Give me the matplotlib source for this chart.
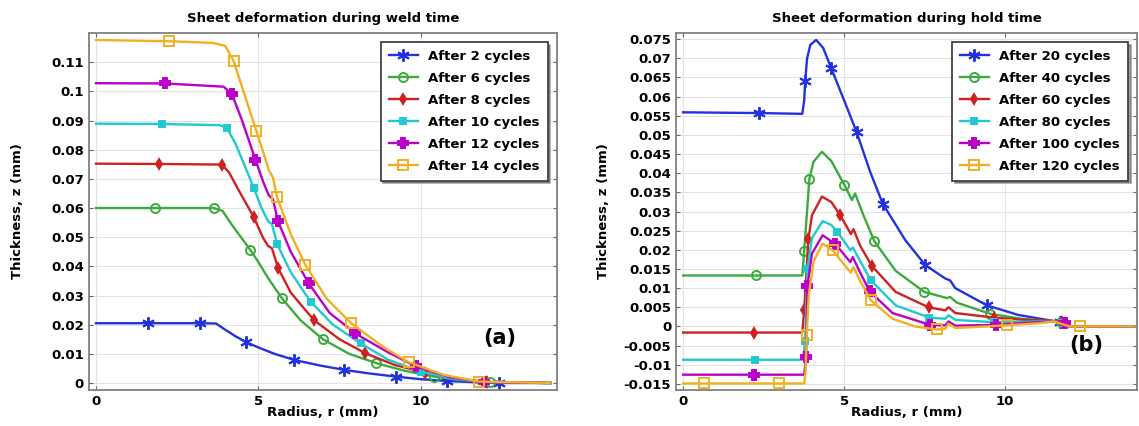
import numpy as np
import matplotlib.pyplot as plt

# ---- panel (a): weld time ----
weld_labels = ["After 2 cycles", "After 6 cycles", "After 8 cycles",
               "After 10 cycles", "After 12 cycles", "After 14 cycles"]

w2_r = [0, 1.6, 3.2, 3.7, 3.95, 4.3, 4.63, 5.0, 5.5, 6.11, 6.9, 7.65, 8.4, 9.23, 10.0, 10.82, 11.6, 12.4, 14.0]
w2_z = [0.0205, 0.0205, 0.0205, 0.0204, 0.0185, 0.0160, 0.0140, 0.0122, 0.0100, 0.0079, 0.0060, 0.0045,
        0.0033, 0.0022, 0.0013, 0.0007, 0.0003, 0.0, 0.0]
w2_m = [1.6, 3.2, 4.63, 6.11, 7.65, 9.23, 10.82, 12.4]

w6_r = [0, 1.83, 3.62, 3.9, 4.2, 4.5, 4.75, 5.0, 5.3, 5.73, 6.3, 6.99, 7.8, 8.64, 9.5, 10.41, 11.3, 12.15, 14.0]
w6_z = [0.0600, 0.0600, 0.0600, 0.0590, 0.0540, 0.0495, 0.0457, 0.0415, 0.0360, 0.0290, 0.0215, 0.0150,
        0.0100, 0.0068, 0.0042, 0.0022, 0.0010, 0.0002, 0.0]
w6_m = [1.83, 3.62, 4.75, 5.73, 6.99, 8.64, 10.41, 12.15]

w8_r = [0, 1.94, 3.88, 4.1, 4.4, 4.86, 5.15, 5.3, 5.42, 5.61, 6.0, 6.71, 7.5, 8.3, 9.2, 10.15, 11.1, 12.05, 14.0]
w8_z = [0.0752, 0.0751, 0.0749, 0.0722, 0.0660, 0.0569, 0.0497, 0.0470, 0.0462, 0.0394, 0.0310, 0.0216,
        0.0150, 0.0102, 0.0062, 0.0035, 0.0014, 0.0003, 0.0]
w8_m = [1.94, 3.88, 4.86, 5.61, 6.71, 8.3, 10.15, 12.05]

w10_r = [0, 2.02, 3.8, 4.03, 4.3, 4.6, 4.86, 5.1, 5.3, 5.42, 5.58, 6.0, 6.61, 7.3, 8.15, 9.0, 10.0, 11.0, 12.0, 14.0]
w10_z = [0.0889, 0.0888, 0.0884, 0.0875, 0.0820, 0.0740, 0.0669, 0.0600, 0.0555, 0.0545, 0.0476, 0.0380,
         0.0279, 0.0200, 0.0136, 0.0080, 0.0039, 0.0015, 0.0003, 0.0]
w10_m = [2.02, 4.03, 4.86, 5.58, 6.61, 8.15, 10.0, 12.0]

w12_r = [0, 2.14, 3.93, 4.19, 4.5, 4.91, 5.15, 5.32, 5.45, 5.61, 6.0, 6.55, 7.2, 7.99, 8.25, 9.0, 9.85,
         10.9, 11.95, 14.0]
w12_z = [0.1028, 0.1027, 0.1016, 0.0990, 0.0900, 0.0766, 0.0690, 0.0644, 0.0630, 0.0554, 0.0450, 0.0342,
         0.0240, 0.0170, 0.0153, 0.0105, 0.0057, 0.0020, 0.0003, 0.0]
w12_m = [2.14, 4.19, 4.91, 5.61, 6.55, 7.99, 9.85, 11.95]

w14_r = [0, 2.25, 3.6, 3.98, 4.24, 4.6, 4.94, 5.2, 5.32, 5.45, 5.58, 6.0, 6.45, 7.1, 7.84, 8.2, 8.9, 9.64,
         10.7, 11.8, 14.0]
w14_z = [0.1176, 0.1172, 0.1166, 0.1156, 0.1104, 0.0980, 0.0864, 0.0775, 0.0730, 0.0705, 0.0637, 0.0510,
         0.0405, 0.0290, 0.0207, 0.0177, 0.0120, 0.0071, 0.0028, 0.0005, 0.0]
w14_m = [2.25, 4.24, 4.94, 5.58, 6.45, 7.84, 9.64, 11.8]

# ---- panel (b): hold time ----
hold_labels = ["After 20 cycles", "After 40 cycles", "After 60 cycles",
               "After 80 cycles", "After 100 cycles", "After 120 cycles"]

h20_r = [0, 2.36, 3.70, 3.76, 3.79, 3.85, 3.95, 4.13, 4.35, 4.6, 5.0, 5.39, 5.8, 6.2, 6.9, 7.52, 8.14, 8.29,
         8.45, 9.43, 10.4, 11.3, 11.69, 12.0, 14.0]
h20_z = [0.0559, 0.0557, 0.0555, 0.0590, 0.0640, 0.0700, 0.0735, 0.0748, 0.0727, 0.0674, 0.0590, 0.0507,
         0.0405, 0.0320, 0.0225, 0.0160, 0.0125, 0.0120, 0.0100, 0.0055, 0.0030, 0.0017, 0.0011, 0.0, 0.0]
h20_m = [2.36, 3.79, 4.6, 5.39, 6.2, 7.52, 9.43, 11.69]

h40_r = [0, 2.27, 3.70, 3.76, 3.92, 4.05, 4.31, 4.6, 5.01, 5.24, 5.34, 5.6, 5.94, 6.6, 7.49, 8.19, 8.29,
         8.5, 9.53, 10.5, 11.3, 11.72, 12.0, 14.0]
h40_z = [0.0133, 0.0133, 0.0133, 0.0197, 0.0385, 0.0430, 0.0456, 0.0432, 0.0369, 0.0330, 0.0347, 0.0290,
         0.0222, 0.0145, 0.0090, 0.0074, 0.0077, 0.0062, 0.0033, 0.0020, 0.0015, 0.0012, 0.0, 0.0]
h40_m = [2.27, 3.76, 3.92, 5.01, 5.94, 7.49, 9.53, 11.72]

h60_r = [0, 2.2, 3.70, 3.76, 3.89, 4.0, 4.31, 4.6, 4.88, 5.21, 5.29, 5.5, 5.86, 6.6, 7.62, 8.14, 8.24,
         8.45, 9.64, 10.6, 11.4, 11.75, 12.0, 14.0]
h60_z = [-0.0016, -0.0016, -0.0016, 0.0042, 0.0228, 0.0290, 0.0339, 0.0325, 0.0290, 0.0241, 0.0254, 0.0210,
         0.0158, 0.0090, 0.0050, 0.0042, 0.0050, 0.0035, 0.0023, 0.0017, 0.0015, 0.0012, 0.0, 0.0]
h60_m = [2.2, 3.76, 3.89, 4.88, 5.86, 7.62, 9.64, 11.75]

h80_r = [0, 2.24, 3.72, 3.79, 3.86, 4.0, 4.33, 4.6, 4.79, 5.19, 5.27, 5.5, 5.83, 6.6, 7.64, 8.14, 8.24,
         8.45, 9.65, 10.6, 11.4, 11.8, 12.0, 14.0]
h80_z = [-0.0087, -0.0087, -0.0087, -0.0037, 0.0150, 0.0230, 0.0275, 0.0265, 0.0247, 0.0199, 0.0206, 0.0170,
         0.0120, 0.0055, 0.0023, 0.0020, 0.0029, 0.0017, 0.0011, 0.0012, 0.0014, 0.0010, 0.0, 0.0]
h80_m = [2.24, 3.79, 3.86, 4.79, 5.83, 7.64, 9.65, 11.8]

h100_r = [0, 2.2, 3.76, 3.82, 3.86, 4.0, 4.33, 4.72, 5.19, 5.27, 5.5, 5.79, 6.5, 7.67, 8.14, 8.24, 8.45,
          9.72, 10.6, 11.4, 11.86, 12.0, 14.0]
h100_z = [-0.0126, -0.0126, -0.0126, -0.0081, 0.0105, 0.0190, 0.0238, 0.0216, 0.0168, 0.0181, 0.0140, 0.0092,
          0.0035, 0.0004, 0.0003, 0.0013, 0.0002, 0.0004, 0.0009, 0.0013, 0.0009, 0.0, 0.0]
h100_m = [2.2, 3.82, 3.86, 4.72, 5.79, 7.67, 9.72, 11.86]

h120_r = [0, 0.66, 2.97, 3.76, 3.80, 3.84, 3.90, 4.05, 4.33, 4.64, 5.21, 5.29, 5.5, 5.83, 6.5, 7.2, 7.88,
          8.14, 8.24, 8.45, 9.0, 10.05, 11.0, 11.5, 12.0, 12.33, 14.0]
h120_z = [-0.0149, -0.0149, -0.0149, -0.0149, -0.0120, -0.0022, 0.0080, 0.0170, 0.0216, 0.0199, 0.0140, 0.0155,
          0.0118, 0.0068, 0.0020, 0.0000, -0.0008, -0.0006, 0.0007, -0.0004, -0.0002, 0.0003, 0.0008, 0.0013,
          0.0, 0.0, 0.0]
h120_m = [0.66, 2.97, 3.84, 4.64, 5.83, 7.88, 10.05, 12.33]

colors = ["#2233dd", "#3caa3c", "#cc2222", "#22c8d0", "#bb00c8", "#f0b020"]
# (marker, size, filled)
styles = [((6, 2, 0), 9, True), ("o", 6.5, False), ("d", 5, True),
          ("s", 4, True), ("P", 7, True), ("s", 6.5, False)]

plt.rcParams['font.family'] = ['DejaVu Sans']
plt.rcParams['font.weight'] = 'bold'

fig = plt.figure(figsize=(11.39, 4.26), dpi=100)
ax1 = fig.add_axes([0.078, 0.0845, 0.411, 0.838])
ax2 = fig.add_axes([0.5935, 0.0845, 0.405, 0.838])


def draw(ax, series, labels):
    for (r, z, m), lab, c, (mk, ms, filled) in zip(series, labels, colors, styles):
        r = np.array(r)
        idx = [int(np.argmin(np.abs(r - v))) for v in m]
        ax.plot(r, z, color=c, lw=1.7, marker=mk, ms=ms, markevery=idx,
                mfc=c if filled else "none", mec=c, mew=1.4, label=lab)


draw(ax1, [(w2_r, w2_z, w2_m), (w6_r, w6_z, w6_m), (w8_r, w8_z, w8_m),
           (w10_r, w10_z, w10_m), (w12_r, w12_z, w12_m), (w14_r, w14_z, w14_m)], weld_labels)
draw(ax2, [(h20_r, h20_z, h20_m), (h40_r, h40_z, h40_m), (h60_r, h60_z, h60_m),
           (h80_r, h80_z, h80_m), (h100_r, h100_z, h100_m), (h120_r, h120_z, h120_m)], hold_labels)

ax1.set_xlim(-0.22, 14.2)
ax1.set_ylim(-0.0024, 0.12)
ax1.set_yticks(np.arange(0, 0.111, 0.01))
ax1.set_yticklabels(["0", "0.01", "0.02", "0.03", "0.04", "0.05", "0.06", "0.07", "0.08", "0.09", "0.1", "0.11"])

ax2.set_xlim(-0.22, 14.1)
ax2.set_ylim(-0.0166, 0.0766)
yt = np.arange(-0.015, 0.0751, 0.005)
ax2.set_yticks(yt)
ax2.set_yticklabels([("%g" % round(v, 3)) if abs(v) > 1e-9 else "0" for v in yt])

for ax, title, tag, tagpos, lx in [
        (ax1, "Sheet deformation during weld time", "(a)", (0.878, 0.146), -0.139),
        (ax2, "Sheet deformation during hold time", "(b)", (0.89, 0.126), -0.143)]:
    ax.set_xticks([0, 5, 10])
    ax.grid(True, color="#e2e2e2", lw=0.8)
    ax.set_axisbelow(True)
    ax.tick_params(direction="in", length=3, top=True, right=True, labelsize=9.5, color="#666666")
    for s in ax.spines.values():
        s.set_color("#808080")
        s.set_linewidth(1.3)
    ax.set_title(title, fontsize=9.5, fontweight="bold", pad=8)
    ax.set_xlabel("Radius, r (mm)", fontsize=9.5, fontweight="bold")
    ax.set_ylabel("Thickness, z (mm)", fontsize=9.5, fontweight="bold")
    ax.xaxis.set_label_coords(0.5, -0.045)
    ax.yaxis.set_label_coords(lx, 0.5)
    ax.text(tagpos[0], tagpos[1], tag, transform=ax.transAxes, fontsize=15,
            fontweight="bold", ha="center", va="center")
    leg = ax.legend(loc="upper right", bbox_to_anchor=(0.98, 0.975), borderaxespad=0,
                    fancybox=False, shadow=True, framealpha=1, fontsize=9.5,
                    handlelength=2.2, labelspacing=0.68, borderpad=0.6)
    leg.get_frame().set_edgecolor("#333333")
    leg.get_frame().set_linewidth(1.2)

fig.savefig("out.png", dpi=100)
